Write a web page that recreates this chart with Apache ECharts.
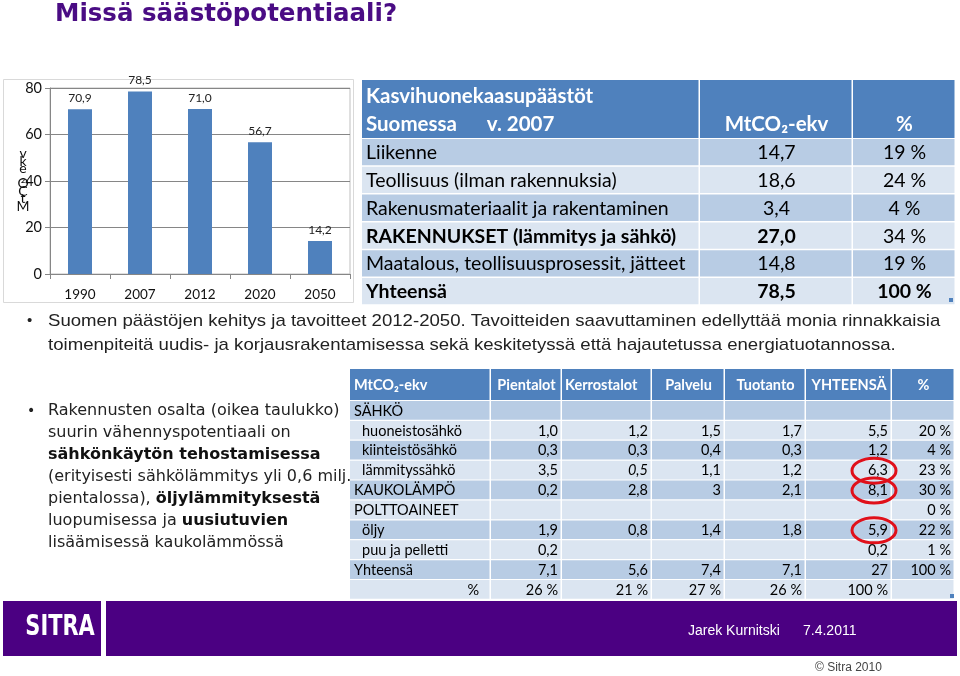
<!DOCTYPE html>
<html><head><meta charset="utf-8">
<script src="https://cdn.jsdelivr.net/npm/echarts@6/dist/echarts.min.js"></script>
<style>html,body{margin:0;padding:0;background:#fff}#c{width:960px;height:676px}</style>
</head><body><div id="c"></div>
<script>
// ---- bar chart data ----
const years = ['1990', '2007', '2012', '2020', '2050'];
const emissions = [70.9, 78.5, 71.0, 56.7, 14.2];
const yMax = 80;
const yStep = 20;

// ---- upper table data ----
const sectorHeader = ['Kasvihuonekaasupäästöt', 'Suomessa      v. 2007', 'MtCO₂-ekv', '%'];
const sectorRows = ['Liikenne', 'Teollisuus (ilman rakennuksia)', 'Rakenusmateriaalit ja rakentaminen', 'RAKENNUKSET (lämmitys ja sähkö)', 'Maatalous, teollisuusprosessit, jätteet ym.', 'Yhteensä'];
const sectorMt = ['14,7', '18,6', '3,4', '27,0', '14,8', '78,5'];
const sectorPct = ['19 %', '24 %', '4 %', '34 %', '19 %', '100 %'];
const sectorBoldLabel = [false, false, false, true, false, true];
const sectorBoldPct = [false, false, false, false, false, true];

// ---- lower table data ----
const bColumns = ['MtCO₂-ekv', 'Pientalot', 'Kerrostalot', 'Palvelu', 'Tuotanto', 'YHTEENSÄ', '%'];
const bRows = ['SÄHKÖ', 'huoneistosähkö', 'kiinteistösähkö', 'lämmityssähkö', 'KAUKOLÄMPÖ', 'POLTTOAINEET', 'öljy', 'puu ja pelletti', 'Yhteensä', '%'];
const bIndent = [false, true, true, true, false, false, true, true, false, false];
const bPientalot = ['', '1,0', '0,3', '3,5', '0,2', '', '1,9', '0,2', '7,1', '26 %'];
const bKerrostalot = ['', '1,2', '0,3', '0,5', '2,8', '', '0,8', '', '5,6', '21 %'];
const bPalvelu = ['', '1,5', '0,4', '1,1', '3', '', '1,4', '', '7,4', '27 %'];
const bTuotanto = ['', '1,7', '0,3', '1,2', '2,1', '', '1,8', '', '7,1', '26 %'];
const bYhteensa = ['', '5,5', '1,2', '6,3', '8,1', '', '5,9', '0,2', '27', '100 %'];
const bPct = ['', '20 %', '4 %', '23 %', '30 %', '0 %', '22 %', '1 %', '100 %', ''];
const bCircled = [3, 4, 6];

// ---- texts ----
const titleText = 'Missä säästöpotentiaali?';
const captionLines = ['Suomen päästöjen kehitys ja tavoitteet 2012-2050. Tavoitteiden saavuttaminen edellyttää monia rinnakkaisia',
  'toimenpiteitä uudis- ja korjausrakentamisessa sekä keskitetyssä että hajautetussa energiatuotannossa.'];
const bulletLines = [
  '{n|Rakennusten osalta (oikea taulukko)}',
  '{n|suurin vähennyspotentiaali on}',
  '{b|sähkönkäytön tehostamisessa}',
  '{n|(erityisesti sähkölämmitys yli 0,6 milj.}',
  '{n|pientalossa), }{b|öljylämmityksestä}',
  '{n|luopumisessa ja }{b|uusiutuvien}',
  '{n|lisäämisessä kaukolämmössä}'
];

const PURPLE = '#4b0082';
const HEAD = '#4f81bd', DARK = '#b8cce4', LIGHT = '#dbe5f1';
const TF = 'Lato, "Open Sans", sans-serif';
const g = [];

function rect(x, y, w, h, fill, extra) {
  g.push(Object.assign({type: 'rect', shape: {x: x, y: y, width: w, height: h}, style: {fill: fill}, silent: true}, extra || {}));
}
function text(x, y, t, o, el) {
  const st = Object.assign({text: t, fill: '#000', fontFamily: TF, fontSize: 14, fontWeight: 'normal',
    align: 'left', verticalAlign: 'middle', textAlign: 'left', textVerticalAlign: 'middle'}, o || {});
  if (o && o.align) st.textAlign = o.align;
  g.push(Object.assign({type: 'text', x: x, y: y, style: st, silent: true, z: 10}, el || {}));
}

// title
text(55, 15, titleText, {fontFamily: '"DejaVu Sans", Verdana, sans-serif', fontSize: 24.5, fontWeight: 'bold', fill: '#4a0c84'});

// bar chart frame
g.push({type: 'rect', shape: {x: 3.5, y: 79.5, width: 350, height: 223}, style: {fill: 'none', stroke: '#d9d9d9', lineWidth: 1}, silent: true});
text(23, 180, 'v\nk\ne\n₂\nO\nC\nt\nM', {fontFamily: 'Lato, sans-serif', fontSize: 14, lineHeight: 7.5, align: 'center', fill: '#111'});

// upper table
const uCols = [362, 700, 853, 956];
const uHeadTop = 80, uHeadBot = 138, uRowTop = 139, uRowH = 27.8;
const UF = 19.5, UH = 20.5;
for (let c = 0; c < 3; c++) rect(uCols[c], uHeadTop, uCols[c + 1] - uCols[c] - 1.5, uHeadBot - uHeadTop, HEAD);
text(366, 96, sectorHeader[0], {fontSize: UH, fontWeight: 'bold', fill: '#fff'});
text(366, 124, sectorHeader[1], {fontSize: UH, fontWeight: 'bold', fill: '#fff'});
text((uCols[1] + uCols[2]) / 2, 124, sectorHeader[2], {fontSize: UH, fontWeight: 'bold', fill: '#fff', align: 'center'});
text((uCols[2] + uCols[3]) / 2, 124, sectorHeader[3], {fontSize: UH, fontWeight: 'bold', fill: '#fff', align: 'center'});
sectorRows.forEach(function (lab, i) {
  const y = uRowTop + i * uRowH;
  const fill = i % 2 === 0 ? DARK : LIGHT;
  for (let c = 0; c < 3; c++) rect(uCols[c], y, uCols[c + 1] - uCols[c] - 1.5, uRowH - 1.5, fill);
  const cy = y + uRowH / 2;
  text(366, cy, lab, {fontSize: UF, fontWeight: sectorBoldLabel[i] ? 'bold' : 'normal', width: uCols[1] - 366 - 1, overflow: 'truncate', ellipsis: ''});
  text((uCols[1] + uCols[2]) / 2, cy, sectorMt[i], {fontSize: UF, fontWeight: sectorBoldLabel[i] ? 'bold' : 'normal', align: 'center'});
  text((uCols[2] + uCols[3]) / 2, cy, sectorPct[i], {fontSize: UF, fontWeight: sectorBoldPct[i] ? 'bold' : 'normal', align: 'center'});
});
rect(949, 298, 4, 4, HEAD);

// caption
text(27, 321, '•', {fontFamily: '"Liberation Sans", Arial, sans-serif', fontSize: 15, fill: '#222'});
captionLines.forEach(function (l, i) {
  text(48, 321 + i * 24, l, {fontFamily: '"Liberation Sans", Arial, sans-serif', fontSize: 17, fill: '#222'}, {scaleX: 1.094});
});

// bullet paragraph
text(27, 411, '•', {fontFamily: '"DejaVu Sans", sans-serif', fontSize: 14, fill: '#222'});
bulletLines.forEach(function (l, i) {
  g.push({type: 'text', x: 48, y: 411 + i * 21.9, silent: true, z: 10, style: {
    text: l, align: 'left', verticalAlign: 'middle', textAlign: 'left', textVerticalAlign: 'middle',
    rich: {
      n: {fontFamily: '"DejaVu Sans", Verdana, sans-serif', fontSize: 16, fill: '#222'},
      b: {fontFamily: '"DejaVu Sans", Verdana, sans-serif', fontSize: 16, fontWeight: 'bold', fill: '#111'}
    }
  }});
});

// lower table
const lCols = [350, 491, 562, 652, 725, 806, 892, 955];
const lHeadTop = 369, lHeadBot = 401, lRowH = 19.9;
const LF = 14.5, LH = 14.5;
for (let c = 0; c < 7; c++) rect(lCols[c], lHeadTop, lCols[c + 1] - lCols[c] - 1.5, lHeadBot - lHeadTop - 1, HEAD);
const hy = (lHeadTop + lHeadBot) / 2;
text(354, hy, bColumns[0], {fontSize: LH, fontWeight: 'bold', fill: '#fff'});
text(565, hy, bColumns[2], {fontSize: LH, fontWeight: 'bold', fill: '#fff'});
[1, 3, 4, 5, 6].forEach(function (c) {
  text((lCols[c] + lCols[c + 1]) / 2, hy, bColumns[c], {fontSize: LH, fontWeight: 'bold', fill: '#fff', align: 'center'});
});
const bCols = [bPientalot, bKerrostalot, bPalvelu, bTuotanto, bYhteensa, bPct];
bRows.forEach(function (lab, i) {
  const y = lHeadBot + i * lRowH;
  const fill = i % 2 === 0 ? DARK : LIGHT;
  for (let c = 0; c < 7; c++) rect(lCols[c], y, lCols[c + 1] - lCols[c] - 1.5, lRowH - 1.2, fill);
  const cy = y + lRowH / 2;
  if (i === bRows.length - 1) text(lCols[1] - 12, cy, lab, {fontSize: LF, align: 'right'});
  else text(bIndent[i] ? 362 : 354, cy, lab, {fontSize: LF});
  bCols.forEach(function (arr, c) {
    if (arr[i]) text(lCols[c + 2] - 4, cy, arr[i], {fontSize: LF, align: 'right', fontStyle: (c === 1 && i === 3) ? 'italic' : 'normal'});
  });
});
bCircled.forEach(function (i) {
  const cy = lHeadBot + i * lRowH + lRowH / 2;
  g.push({type: 'ellipse', shape: {cx: 874, cy: cy, rx: 22, ry: 12.5}, style: {fill: 'none', stroke: '#e0101a', lineWidth: 3}, silent: true, z: 20});
});
rect(950, 594, 4, 4, HEAD);

// footer
rect(3, 601, 98, 55, PURPLE);
rect(106, 601, 851, 55, PURPLE);
g.push({type: 'text', x: 60, y: 628, scaleX: 0.95, scaleY: 1.25, silent: true, z: 10,
  style: {text: 'SITRA', fill: '#fff', fontFamily: '"DejaVu Sans", sans-serif', fontSize: 22, fontWeight: 'bold',
    align: 'center', verticalAlign: 'middle', textAlign: 'center', textVerticalAlign: 'middle'}});
text(688, 631, 'Jarek Kurnitski', {fontFamily: '"Liberation Sans", Arial, sans-serif', fontSize: 14, fill: '#fff'});
text(803, 631, '7.4.2011', {fontFamily: '"Liberation Sans", Arial, sans-serif', fontSize: 14, fill: '#fff'});
text(815, 668, '© Sitra 2010', {fontFamily: '"Liberation Sans", Arial, sans-serif', fontSize: 12, fill: '#444'});

const chart = echarts.init(document.getElementById('c'), null, {renderer: 'canvas'});
chart.setOption({
  animation: false,
  backgroundColor: '#fff',
  grid: {left: 50, right: 610, top: 88, bottom: 402, show: true, borderColor: '#bfbfbf', borderWidth: 1, containLabel: false},
  xAxis: {
    type: 'category', data: years,
    axisLine: {lineStyle: {color: '#868686'}},
    axisTick: {show: true, alignWithLabel: false, length: 5, lineStyle: {color: '#868686'}},
    axisLabel: {color: '#111', fontFamily: 'Lato, sans-serif', fontSize: 13.5, margin: 14}
  },
  yAxis: {
    type: 'value', min: 0, max: yMax, interval: yStep,
    axisLine: {show: true, lineStyle: {color: '#868686'}},
    axisTick: {show: true, length: 5, lineStyle: {color: '#868686'}},
    axisLabel: {color: '#111', fontFamily: 'Lato, sans-serif', fontSize: 14.5, margin: 8},
    splitLine: {lineStyle: {color: '#868686'}}
  },
  series: [{
    type: 'bar', data: emissions, barWidth: 24,
    itemStyle: {color: '#4f81bd'},
    label: {show: true, position: 'top', distance: 5, color: '#222', fontFamily: 'Lato, sans-serif', fontSize: 12,
      formatter: function (p) { return p.value.toFixed(1).replace('.', ','); }}
  }],
  graphic: {elements: g}
});
</script></body></html>
